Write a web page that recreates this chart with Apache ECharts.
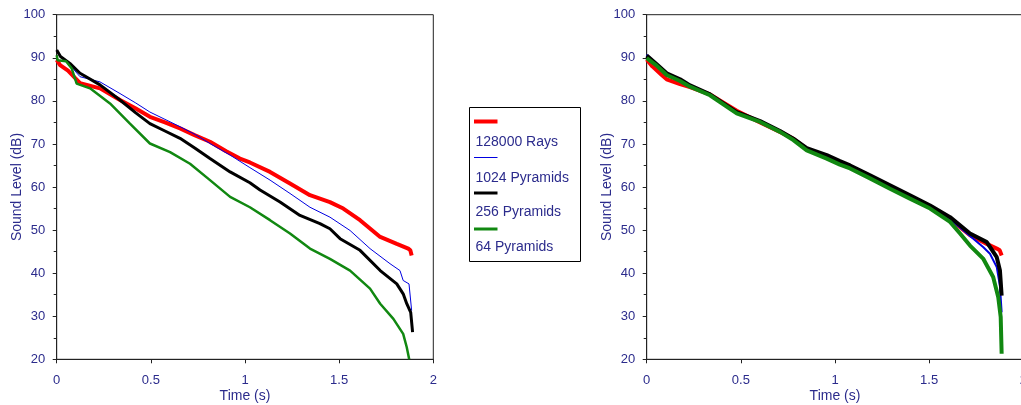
<!DOCTYPE html>
<html>
<head>
<meta charset="utf-8">
<script src="https://cdn.jsdelivr.net/npm/echarts@6/dist/echarts.min.js"></script>
<style>
html,body{margin:0;padding:0;background:#fff;}
#c{width:1021px;height:405px;}
</style>
</head>
<body>
<div id="c"></div>
<script>
// ---------- data ----------
const seriesNames = ['128000 Rays', '1024 Pyramids', '256 Pyramids', '64 Pyramids'];
const xTicks = [0, 0.5, 1, 1.5, 2];
const yTicks = [20, 30, 40, 50, 60, 70, 80, 90, 100];

// Left panel
const leftRedT = [0, 0.018, 0.06, 0.124, 0.23, 0.336, 0.42, 0.495, 0.575, 0.655, 0.735, 0.814, 0.9, 0.973, 1.026, 1.133, 1.239, 1.345, 1.451, 1.522, 1.611, 1.718, 1.806, 1.867, 1.878, 1.885];
const leftRedL = [89.5, 88.3, 87.0, 84.1, 82.9, 80.2, 78.2, 76.3, 75.0, 73.6, 72.0, 70.5, 68.3, 66.6, 65.7, 63.5, 60.8, 58.1, 56.5, 55.0, 52.3, 48.4, 46.8, 45.7, 45.3, 44.1];

const leftBlueT = [0, 0.03, 0.07, 0.124, 0.23, 0.336, 0.42, 0.495, 0.575, 0.655, 0.735, 0.814, 0.921, 1.026, 1.133, 1.239, 1.345, 1.451, 1.558, 1.664, 1.77, 1.823, 1.84, 1.871, 1.885];
const leftBlueL = [91.8, 89.8, 88.3, 85.6, 84.4, 81.7, 79.5, 77.4, 75.7, 74.0, 72.2, 70.1, 67.4, 64.5, 61.6, 58.5, 55.3, 53.0, 49.9, 45.7, 42.2, 40.6, 38.3, 37.5, 31.3];

const leftBlackT = [0, 0.02, 0.07, 0.124, 0.23, 0.336, 0.42, 0.495, 0.575, 0.655, 0.735, 0.814, 0.921, 1.026, 1.08, 1.186, 1.292, 1.398, 1.451, 1.505, 1.611, 1.718, 1.806, 1.84, 1.859, 1.88, 1.89];
const leftBlackL = [91.8, 90.3, 88.7, 86.4, 83.7, 80.2, 77.2, 74.7, 73.0, 71.3, 69.0, 66.6, 63.5, 61.0, 59.3, 56.5, 53.4, 51.5, 50.3, 48.0, 45.3, 40.6, 37.5, 35.2, 32.9, 30.9, 26.3];

const leftGreenT = [0, 0.005, 0.05, 0.08, 0.106, 0.177, 0.283, 0.389, 0.495, 0.602, 0.708, 0.814, 0.921, 1.026, 1.133, 1.239, 1.345, 1.451, 1.558, 1.664, 1.718, 1.788, 1.84, 1.859, 1.872];
const leftGreenL = [90.6, 89.4, 89.2, 87.5, 84.0, 82.9, 79.4, 74.7, 70.1, 68.1, 65.4, 61.6, 57.7, 55.3, 52.3, 49.2, 45.7, 43.3, 40.6, 36.4, 32.9, 29.4, 25.9, 22.8, 20.0];

// Right panel
const rightRedT = [0, 0.03, 0.08, 0.106, 0.177, 0.23, 0.336, 0.478, 0.602, 0.708, 0.779, 0.85, 0.956, 1.026, 1.08, 1.186, 1.292, 1.398, 1.505, 1.611, 1.717, 1.806, 1.859, 1.875, 1.885];
const rightRedL = [89.6, 88.0, 86.0, 85.0, 83.9, 83.2, 81.5, 77.7, 75.0, 72.8, 71.2, 68.8, 67.2, 65.8, 64.8, 62.5, 60.2, 57.8, 55.3, 52.5, 48.8, 46.8, 45.7, 45.3, 44.1];

const rightBlueT = [0, 0.05, 0.106, 0.177, 0.23, 0.336, 0.478, 0.602, 0.708, 0.779, 0.85, 0.956, 1.026, 1.08, 1.186, 1.292, 1.398, 1.505, 1.611, 1.717, 1.788, 1.823, 1.859, 1.876, 1.885];
const rightBlueL = [90.7, 88.6, 86.3, 84.9, 83.5, 81.4, 77.3, 75.2, 72.9, 71.0, 68.8, 67.1, 65.8, 64.8, 62.5, 60.2, 57.9, 55.4, 52.6, 48.6, 46.0, 44.5, 41.4, 37.0, 30.9];

const rightBlackT = [0, 0.05, 0.106, 0.177, 0.23, 0.336, 0.478, 0.602, 0.708, 0.779, 0.85, 0.956, 1.026, 1.08, 1.186, 1.292, 1.398, 1.505, 1.611, 1.717, 1.806, 1.859, 1.876, 1.885];
const rightBlackL = [90.5, 88.6, 86.4, 85.0, 83.6, 81.5, 77.4, 75.3, 73.0, 71.2, 69.0, 67.4, 66.0, 65.0, 62.7, 60.4, 58.1, 55.7, 53.0, 49.2, 47.2, 43.7, 40.6, 34.8];

const rightGreenT = [0, 0.05, 0.106, 0.177, 0.23, 0.336, 0.478, 0.602, 0.708, 0.779, 0.85, 0.956, 1.026, 1.08, 1.186, 1.292, 1.398, 1.505, 1.611, 1.664, 1.717, 1.788, 1.84, 1.867, 1.88, 1.885];
const rightGreenL = [89.9, 88.3, 86.0, 84.6, 83.3, 81.3, 77.1, 75.1, 72.8, 70.9, 68.5, 66.6, 65.2, 64.3, 62.0, 59.6, 57.3, 55.0, 51.9, 49.2, 46.4, 43.3, 39.1, 34.4, 29.8, 21.3];

// ---------- styling ----------
const TXT = '#2b2b8c';
const AX = '#222';
const FONT = '"Liberation Sans", Arial, sans-serif';
const colors = ['#ff0000', '#0000e0', '#000000', '#118811'];
const leftWidths = [4, 1, 3, 2.5];
const rightWidths = [4, 2, 4, 4];

function zip(t, l) { return t.map((v, i) => [v, l[i]]); }

const leftData = [zip(leftRedT, leftRedL), zip(leftBlueT, leftBlueL), zip(leftBlackT, leftBlackL), zip(leftGreenT, leftGreenL)];
const rightData = [zip(rightRedT, rightRedL), zip(rightBlueT, rightBlueL), zip(rightBlackT, rightBlackL), zip(rightGreenT, rightGreenL)];

function xAxisCfg(gi) {
  return {
    type: 'value', gridIndex: gi, min: xTicks[0], max: xTicks[xTicks.length - 1], interval: 0.5,
    name: 'Time (s)', nameLocation: 'middle', nameGap: 30, nameMoveOverlap: false,
    nameTextStyle: { color: TXT, fontSize: 14, fontFamily: FONT },
    axisLine: { show: true, lineStyle: { color: AX, width: 1 } },
    axisTick: { show: true, length: 4, lineStyle: { color: AX } },
    axisLabel: { color: TXT, fontSize: 13, fontFamily: FONT, margin: 15 },
    splitLine: { show: false }
  };
}
function yAxisCfg(gi) {
  return {
    type: 'value', gridIndex: gi, min: yTicks[0], max: yTicks[yTicks.length - 1], interval: 10,
    name: 'Sound Level (dB)', nameLocation: 'middle', nameGap: 33, nameMoveOverlap: false,
    nameTextStyle: { color: TXT, fontSize: 14, fontFamily: FONT },
    axisLine: { show: true, lineStyle: { color: AX, width: 1 } },
    axisTick: { show: true, length: 4, lineStyle: { color: AX } },
    minorTick: { show: true, splitNumber: 2, length: 3, lineStyle: { color: AX } },
    axisLabel: { color: TXT, fontSize: 13, fontFamily: FONT, margin: 11.5 },
    splitLine: { show: false }, minorSplitLine: { show: false }
  };
}

const series = [];
seriesNames.forEach((n, i) => {
  series.push({ name: n, type: 'line', xAxisIndex: 0, yAxisIndex: 0, data: leftData[i], showSymbol: false, symbol: 'none',
    lineStyle: { color: colors[i], width: leftWidths[i] }, itemStyle: { color: colors[i] }, animation: false, z: 2 + i });
});
seriesNames.forEach((n, i) => {
  series.push({ name: n, type: 'line', xAxisIndex: 1, yAxisIndex: 1, data: rightData[i], showSymbol: false, symbol: 'none',
    lineStyle: { color: colors[i], width: rightWidths[i] }, itemStyle: { color: colors[i] }, animation: false, z: 2 + i });
});

// legend drawn as graphic
const legendGraphics = [{
  type: 'rect', shape: { x: 469.5, y: 107.5, width: 111, height: 154 },
  style: { fill: '#fff', stroke: '#000', lineWidth: 1 }, z: 10
}];
const lineYs = [121.5, 157.5, 193, 229];
const textYs = [142, 178, 212, 247.5];
seriesNames.forEach((n, i) => {
  legendGraphics.push({ type: 'line', shape: { x1: 474, y1: lineYs[i], x2: 497.5, y2: lineYs[i] },
    style: { stroke: colors[i], lineWidth: [4, 1, 3, 3][i] }, z: 11 });
  legendGraphics.push({ type: 'text', x: 475.5, y: textYs[i],
    style: { text: n, fill: TXT, font: '14px ' + FONT, textVerticalAlign: 'middle', textAlign: 'left' }, z: 11 });
});

const chart = echarts.init(document.getElementById('c'), null, { renderer: 'canvas' });
chart.setOption({
  animation: false,
  backgroundColor: '#fff',
  grid: [
    { left: 56.7, top: 14.7, width: 376.6, height: 344.6, show: true, borderColor: AX, borderWidth: 1, backgroundColor: 'transparent', containLabel: false, outerBoundsMode: 'none' },
    { left: 646.7, top: 14.7, width: 376.6, height: 344.6, show: true, borderColor: AX, borderWidth: 1, backgroundColor: 'transparent', containLabel: false, outerBoundsMode: 'none' }
  ],
  xAxis: [xAxisCfg(0), xAxisCfg(1)],
  yAxis: [yAxisCfg(0), yAxisCfg(1)],
  series: series,
  graphic: legendGraphics
});
</script>
</body>
</html>
